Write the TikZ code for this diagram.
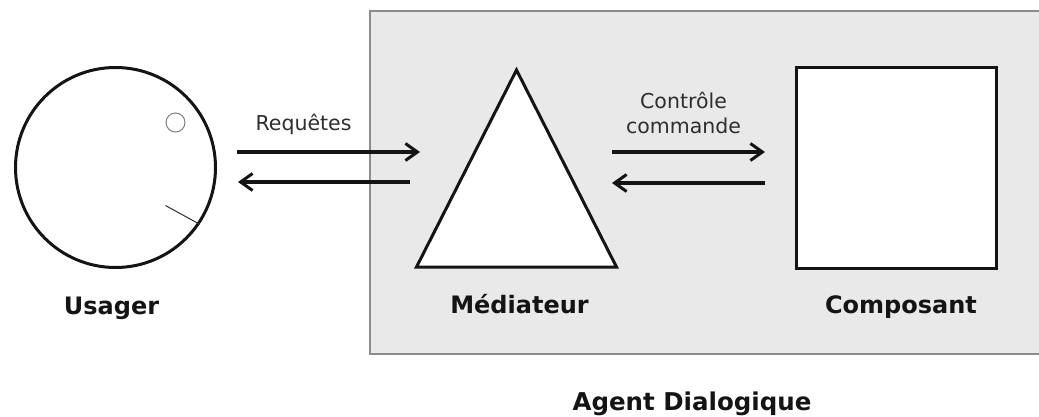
\documentclass[tikz,border=0pt]{standalone}
\usepackage{fontspec}
\setmainfont{DejaVu Sans}
\usetikzlibrary{arrows.meta}
\definecolor{panelfill}{HTML}{E9E9E9}
\definecolor{panelline}{HTML}{8C8C8C}
\definecolor{ink}{HTML}{141414}
\definecolor{softink}{HTML}{2E2E2E}
\tikzset{
  shapeline/.style={draw=ink, line width=3pt, fill=white},
  flow/.style={draw=ink, line width=3.2pt, -{Straight Barb[length=12pt,width=17pt,line width=3pt]}},
  title/.style={anchor=base, text=ink, font=\fontsize{24}{28}\selectfont\bfseries},
  caption/.style={anchor=base, text=softink, font=\fontsize{20.5}{25}\selectfont},
}
\begin{document}
\begin{tikzpicture}[x=1pt,y=-1pt]
\useasboundingbox (0,0) rectangle (1039,417);
\fill[white] (0,0) rectangle (1039,417);

% agent panel (open on the right)
\fill[panelfill] (370,11) rectangle (1039,354);
\draw[panelline, line width=2pt] (1039,11) -- (370,11) -- (370,354) -- (1039,354);

% user
\node[circle, shapeline, minimum size=200pt, inner sep=0pt] (usager) at (115.5,167.5) {};
\node[circle, draw=gray, line width=1pt, minimum size=19pt, inner sep=0pt] (eye) at (175.5,122.5) {};
\coordinate (mouthin) at (165.5,205.5);
\draw[draw=softink, line width=1pt] (mouthin) -- (usager.-34);
\node[title] (lusager) at (111.5,314) {Usager};

% mediator
\coordinate (apex) at (516.5,70);
\coordinate (baseL) at (416.5,267);
\coordinate (baseR) at (616.5,267);
\draw[shapeline, line join=miter] (apex) -- (baseR) -- (baseL) -- cycle;
\node[title] (lmediateur) at (519.5,313) {Médiateur};

% component
\node[rectangle, shapeline, minimum width=200pt, minimum height=200pt, inner sep=0pt] (composant) at (896.5,168) {};
\node[title] (lcomposant) at (901,313) {Composant};

\node[title, font=\fontsize{24.5}{28}\selectfont\bfseries] (agent) at (692,410) {Agent Dialogique};

% exchanges user <-> mediator
\coordinate (ua) at (237,152);
\coordinate (ma) at (420,152);
\coordinate (mb) at (410,182);
\coordinate (ub) at (238,182);
\draw[flow] (ua) -- (ma);
\draw[flow] (mb) -- (ub);
\node[caption] (lreq) at (303.5,131) {Requêtes};

% exchanges mediator <-> component
\coordinate (mc) at (612,152);
\coordinate (cc) at (765,152);
\coordinate (cd) at (765,183);
\coordinate (md) at (612,183);
\draw[flow] (mc) -- (cc);
\draw[flow] (cd) -- (md);
\node[caption] (lctl) at (683.5,109) {Contrôle};
\node[caption] (lcmd) at (683.5,134) {commande};
\end{tikzpicture}
\end{document}
